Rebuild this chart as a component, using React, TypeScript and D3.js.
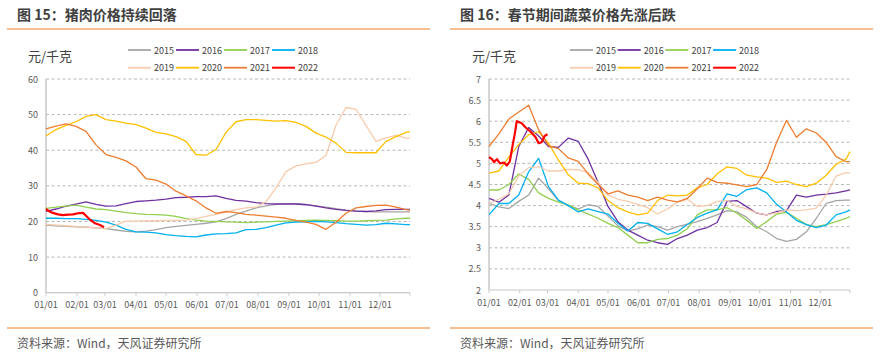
import React from 'react';
import * as d3 from 'd3';

// day-of-year grid shared by the full-year series
const GRID_DAYS = [0, 10, 20, 30, 40, 50, 60, 70, 80, 90, 100, 110, 120, 130, 140, 150, 160, 170, 180, 190, 200, 210, 220, 230, 240, 250, 260, 270, 280, 290, 300, 310, 320, 330, 340, 350, 360, 364];
const MONTH_DAYS = [0, 31, 59, 90, 120, 151, 181, 212, 243, 273, 304, 334];
const MONTH_LABELS = ['01/01', '02/01', '03/01', '04/01', '05/01', '06/01', '07/01', '08/01', '09/01', '10/01', '11/01', '12/01'];
const YEARS = ['2015', '2016', '2017', '2018', '2019', '2020', '2021', '2022'];
const COLORS = ['#A5A5A5', '#7030A0', '#92D050', '#00B0F0', '#F8CBAD', '#FFC000', '#ED7D31', '#FF0000'];

// 猪肉价格 元/千克
const PORK_2015 = [19.0, 18.8, 18.6, 18.5, 18.4, 18.2, 18.0, 17.6, 17.2, 17.1, 17.3, 17.7, 18.3, 18.6, 18.9, 19.2, 19.5, 19.9, 20.8, 22.0, 22.9, 23.8, 24.4, 24.8, 25.0, 25.0, 24.8, 24.4, 24.0, 23.6, 23.2, 23.0, 22.8, 22.7, 22.7, 22.7, 22.7, 22.7];
const PORK_2016 = [22.8, 23.5, 24.3, 24.9, 25.5, 24.8, 24.3, 24.4, 25.0, 25.6, 25.8, 26.0, 26.3, 26.7, 26.8, 27.0, 27.0, 27.2, 26.5, 25.9, 25.7, 25.3, 25.0, 24.9, 24.9, 24.9, 24.7, 24.3, 23.8, 23.4, 23.1, 22.9, 22.8, 23.0, 23.3, 23.4, 23.4, 23.4];
const PORK_2017 = [23.7, 24.0, 24.3, 24.6, 24.0, 23.5, 23.3, 22.9, 22.5, 22.2, 22.0, 21.9, 21.8, 21.4, 20.8, 20.4, 20.1, 20.0, 19.9, 19.8, 19.7, 19.8, 19.9, 20.0, 20.1, 20.2, 20.3, 20.4, 20.3, 20.2, 20.1, 20.1, 20.2, 20.3, 20.4, 20.7, 20.9, 20.9];
const PORK_2018 = [20.9, 20.9, 20.8, 20.8, 20.6, 20.3, 19.8, 19.0, 17.8, 17.1, 17.0, 16.8, 16.3, 16.0, 15.8, 15.7, 16.2, 16.5, 16.6, 16.8, 17.7, 17.8, 18.3, 19.0, 19.6, 19.8, 19.9, 20.0, 19.9, 19.7, 19.4, 19.2, 19.0, 19.1, 19.5, 19.3, 19.1, 19.1];
const PORK_2019 = [19.2, 19.0, 18.8, 18.6, 18.4, 18.2, 18.0, 19.0, 20.1, 20.1, 20.2, 20.2, 20.3, 20.3, 20.4, 20.8, 21.4, 22.0, 22.7, 23.3, 23.8, 24.0, 25.5, 29.5, 34.0, 35.6, 36.2, 36.6, 38.5, 47.0, 52.0, 51.5, 47.0, 42.5, 43.5, 44.2, 43.4, 43.4];
const PORK_2020 = [44.0, 45.8, 47.0, 48.0, 49.5, 50.0, 48.6, 48.2, 47.6, 47.2, 46.2, 45.0, 44.6, 43.8, 42.5, 38.8, 38.6, 40.2, 45.0, 48.0, 48.6, 48.6, 48.4, 48.2, 48.3, 47.8, 46.7, 44.8, 43.7, 42.0, 39.4, 39.3, 39.3, 39.3, 42.5, 43.8, 45.0, 45.2];
const PORK_2021 = [46.0, 46.8, 47.4, 46.7, 45.3, 41.5, 38.8, 38.0, 37.0, 35.3, 32.0, 31.6, 30.5, 28.5, 27.2, 25.8, 23.8, 22.3, 22.8, 22.5, 22.0, 21.8, 21.5, 21.2, 20.9, 20.3, 19.8, 19.2, 17.8, 19.8, 22.3, 23.8, 24.2, 24.5, 24.6, 24.0, 23.3, 23.2];
const PORK_2022_DAYS = [0, 3, 7, 12, 17, 22, 27, 32, 37, 40, 44, 49, 54, 58];
const PORK_2022 = [23.5, 22.9, 22.4, 22.0, 21.8, 21.9, 22.0, 22.3, 22.4, 21.6, 20.5, 19.5, 19.0, 18.4];
const PORK_TICKS = [0, 10, 20, 30, 40, 50, 60];

// 蔬菜价格 元/千克
const VEG_2015 = [4.05, 3.97, 3.93, 4.10, 4.25, 4.65, 4.40, 4.12, 4.00, 3.92, 4.02, 3.98, 3.75, 3.52, 3.40, 3.45, 3.54, 3.50, 3.42, 3.50, 3.56, 3.62, 3.70, 3.78, 3.88, 3.85, 3.72, 3.50, 3.38, 3.22, 3.15, 3.20, 3.38, 3.70, 4.05, 4.12, 4.13, 4.13];
const VEG_2016 = [4.17, 4.08, 4.25, 5.40, 5.85, 5.65, 5.40, 5.38, 5.60, 5.52, 5.10, 4.55, 3.98, 3.62, 3.42, 3.30, 3.18, 3.12, 3.08, 3.22, 3.30, 3.42, 3.48, 3.60, 4.10, 4.12, 3.97, 3.82, 3.78, 3.86, 3.88, 4.25, 4.20, 4.25, 4.27, 4.30, 4.35, 4.37];
const VEG_2017 = [4.37, 4.37, 4.50, 4.75, 4.62, 4.30, 4.17, 4.08, 4.02, 3.90, 3.80, 3.70, 3.58, 3.48, 3.30, 3.12, 3.12, 3.20, 3.22, 3.30, 3.45, 3.78, 3.90, 3.90, 3.95, 3.82, 3.65, 3.46, 3.62, 3.80, 3.84, 3.70, 3.55, 3.50, 3.55, 3.62, 3.70, 3.74];
const VEG_2018 = [3.78, 4.05, 4.05, 4.25, 4.80, 5.12, 4.45, 4.13, 4.00, 3.85, 3.92, 3.86, 3.80, 3.58, 3.40, 3.60, 3.58, 3.45, 3.32, 3.38, 3.55, 3.72, 3.82, 3.90, 4.28, 4.22, 4.38, 4.42, 4.30, 4.03, 3.85, 3.65, 3.55, 3.48, 3.54, 3.78, 3.85, 3.90];
const VEG_2019 = [4.05, 4.15, 4.28, 4.70, 4.90, 4.92, 4.82, 4.82, 4.86, 4.85, 4.78, 4.55, 4.25, 4.15, 4.10, 4.03, 3.95, 3.80, 3.92, 4.08, 4.15, 3.98, 4.00, 4.10, 4.12, 3.98, 3.92, 3.83, 3.78, 3.83, 3.90, 3.88, 3.90, 3.94, 4.25, 4.70, 4.78, 4.77];
const VEG_2020 = [4.77, 4.82, 5.15, 5.45, 5.68, 5.75, 5.48, 5.08, 4.73, 4.53, 4.52, 4.42, 4.12, 3.95, 3.85, 3.78, 3.82, 4.12, 4.25, 4.23, 4.25, 4.42, 4.50, 4.75, 4.92, 4.88, 4.72, 4.68, 4.65, 4.55, 4.58, 4.50, 4.45, 4.53, 4.72, 4.98, 5.10, 5.28];
const VEG_2021 = [5.40, 5.70, 6.05, 6.22, 6.38, 5.80, 5.42, 5.35, 5.13, 5.05, 4.75, 4.50, 4.28, 4.35, 4.25, 4.20, 4.12, 4.20, 4.13, 4.09, 4.17, 4.40, 4.65, 4.55, 4.53, 4.49, 4.45, 4.50, 4.85, 5.50, 6.02, 5.62, 5.82, 5.72, 5.50, 5.16, 5.04, 5.04];
const VEG_2022_DAYS = [0, 3, 5, 8, 11, 15, 18, 21, 24, 26, 28, 33, 37, 42, 47, 50, 53, 56, 59];
const VEG_2022 = [5.15, 5.10, 5.03, 5.10, 5.00, 5.02, 4.95, 5.05, 5.45, 5.70, 6.00, 5.95, 5.85, 5.75, 5.62, 5.48, 5.50, 5.65, 5.69];
const VEG_TICKS = [2, 2.5, 3, 3.5, 4, 4.5, 5, 5.5, 6, 6.5, 7];

const FONT = '"Noto Sans CJK SC", "Noto Sans", sans-serif';
const ORANGE = '#EE7D22';

type Pt = [number, number];
const zip = (days: number[], vals: number[]): Pt[] => vals.map((v, i) => [days[i], v]);

interface PanelProps {
  x0: number;
  title: string;
  series: Pt[][];
  yDomain: [number, number];
  yTicks: number[];
  plot: { left: number; right: number; top: number; bottom: number };
  unitX: number;
  legendX: number;
  legendStep: number;
}

const Panel: React.FC<PanelProps> = ({ x0, title, series, yDomain, yTicks, plot, unitX, legendX, legendStep }) => {
  const x = d3.scaleLinear().domain([0, 364]).range([plot.left, plot.right]);
  const y = d3.scaleLinear().domain(yDomain).range([plot.bottom, plot.top]);
  const line = d3.line<Pt>().x(d => x(d[0])).y(d => y(d[1]));

  return (
    <g>
      <text x={x0 + 10} y={20} fontSize={14} fontWeight="bold" fill="#404040" fontFamily={FONT}>{title}</text>
      <line x1={x0} x2={x0 + 423} y1={29} y2={29} stroke={ORANGE} strokeWidth={1} />

      <text x={unitX} y={61} fontSize={13} fill="#404040" fontFamily={FONT}>元/千克</text>

      {/* legend */}
      {YEARS.map((yr, i) => {
        const lx = legendX + (i % 4) * legendStep;
        const ly = i < 4 ? 50 : 67.7;
        return (
          <g key={yr}>
            <line x1={lx} x2={lx + 23} y1={ly} y2={ly} stroke={COLORS[i]} strokeWidth={i === 7 ? 2 : 1.8} />
            <text x={lx + 26} y={ly} dominantBaseline="central" fontSize={9} fill="#404040" fontFamily={FONT}>{yr}</text>
          </g>
        );
      })}

      {/* grid + y labels */}
      {yTicks.map(t => (
        <g key={t}>
          {t !== yDomain[0] && (
            <line x1={plot.left} x2={plot.right} y1={y(t)} y2={y(t)} stroke="#A6A6A6" strokeWidth={0.8} strokeDasharray="3,2.5" />
          )}
          <text x={plot.left - 8} y={y(t)} textAnchor="end" dominantBaseline="central" fontSize={9} fill="#595959" fontFamily={FONT}>{t}</text>
        </g>
      ))}

      {/* axes */}
      <line x1={plot.left} x2={plot.left} y1={plot.top} y2={plot.bottom} stroke="#C8C8C8" strokeWidth={1.5} />
      <line x1={plot.left} x2={plot.right} y1={plot.bottom} y2={plot.bottom} stroke="#C8C8C8" strokeWidth={1.2} />
      {[...MONTH_DAYS, 364].map(d => (
        <line key={d} x1={x(d)} x2={x(d)} y1={plot.bottom} y2={plot.bottom + 3} stroke="#C8C8C8" strokeWidth={1} />
      ))}
      {MONTH_DAYS.map((d, i) => (
        <text key={d} x={x(d)} y={plot.bottom + 12} textAnchor="middle" dominantBaseline="central" fontSize={9} fill="#595959" fontFamily={FONT}>{MONTH_LABELS[i]}</text>
      ))}

      {/* series */}
      {series.map((s, i) => (
        <path key={i} d={line(s) || ''} fill="none" stroke={COLORS[i]} strokeWidth={i === 7 ? 2.2 : 1.3} strokeLinejoin="round" />
      ))}

      <line x1={x0} x2={x0 + 423} y1={328} y2={328} stroke={ORANGE} strokeWidth={1} />
      <text x={x0 + 10} y={347.5} fontSize={12} fill="#595959" fontFamily={FONT}>资料来源：Wind，天风证券研究所</text>
    </g>
  );
};

export default function App() {
  const pork = [
    zip(GRID_DAYS, PORK_2015), zip(GRID_DAYS, PORK_2016), zip(GRID_DAYS, PORK_2017), zip(GRID_DAYS, PORK_2018),
    zip(GRID_DAYS, PORK_2019), zip(GRID_DAYS, PORK_2020), zip(GRID_DAYS, PORK_2021), zip(PORK_2022_DAYS, PORK_2022),
  ];
  const veg = [
    zip(GRID_DAYS, VEG_2015), zip(GRID_DAYS, VEG_2016), zip(GRID_DAYS, VEG_2017), zip(GRID_DAYS, VEG_2018),
    zip(GRID_DAYS, VEG_2019), zip(GRID_DAYS, VEG_2020), zip(GRID_DAYS, VEG_2021), zip(VEG_2022_DAYS, VEG_2022),
  ];

  return (
    <svg width={881} height={354} style={{ position: 'absolute', left: 0, top: 0, background: '#fff' }}>
      <rect width={881} height={354} fill="#fff" />
      <Panel
        x0={7}
        title="图 15：猪肉价格持续回落"
        series={pork}
        yDomain={[0, 60]}
        yTicks={PORK_TICKS}
        plot={{ left: 46, right: 410, top: 79, bottom: 292.7 }}
        unitX={28}
        legendX={128}
        legendStep={48}
      />
      <Panel
        x0={450}
        title="图 16：春节期间蔬菜价格先涨后跌"
        series={veg}
        yDomain={[2, 7]}
        yTicks={VEG_TICKS}
        plot={{ left: 489, right: 850, top: 79, bottom: 290 }}
        unitX={472}
        legendX={570}
        legendStep={47.7}
      />
    </svg>
  );
}
